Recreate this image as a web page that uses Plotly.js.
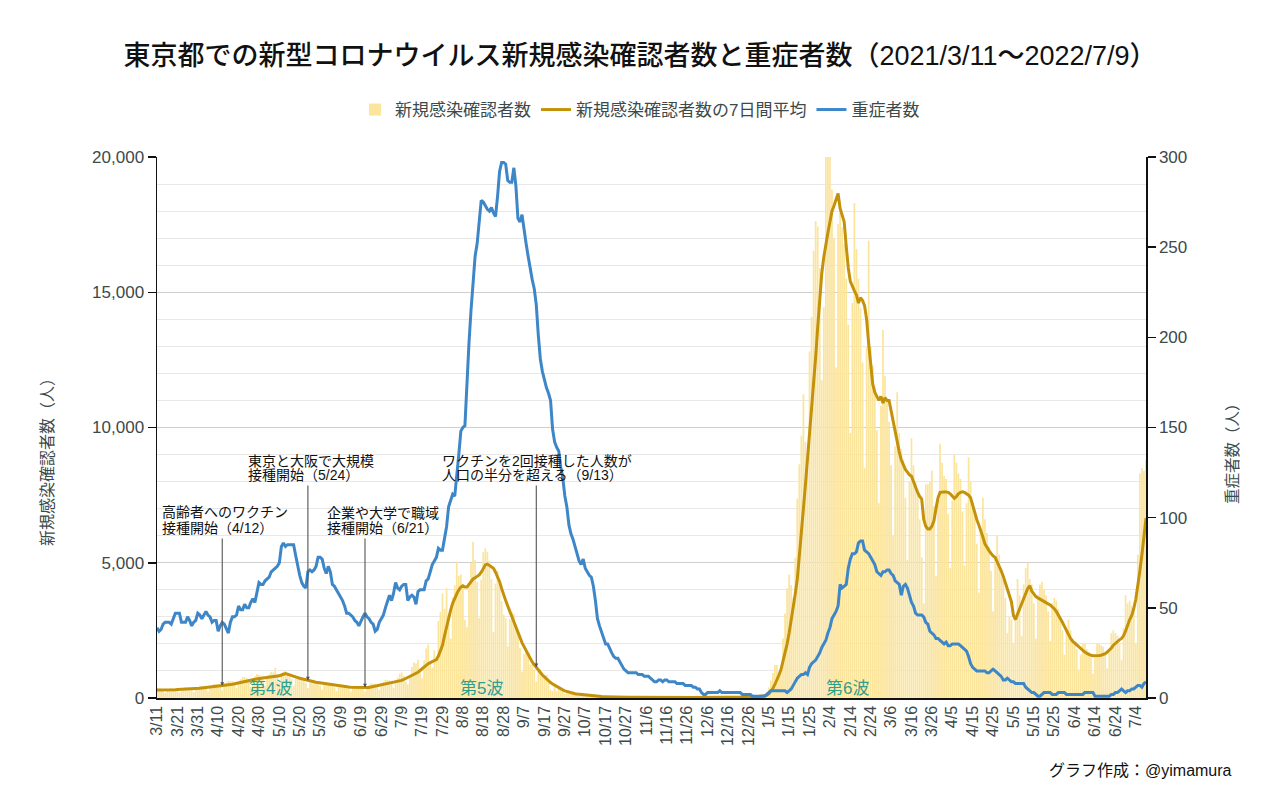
<!DOCTYPE html>
<html>
<head>
<meta charset="utf-8">
<script src="https://cdn.plot.ly/plotly-3.0.1.min.js"></script>
<style>html,body{margin:0;padding:0;background:#fff;}#chart{width:1280px;height:791px;}</style>
</head>
<body>
<div id="chart"></div>
<script>
// ---- DATA (daily, from 2021-03-11 to 2022-07-09) ----
const startDate = '2021-03-11';

// 新規感染確認者数 (daily new cases, left axis)
const newCases = [
355,342,328,268,179,285,333, 372,359,345,284,190,302,352, 394,383,377,315,213,347,411,
458,449,442,367,248,393,462, 516,506,497,419,288,470,561, 634,627,618,521,358,617,695,
780,764,746,623,424,684,801, 883,856,827,677,456,741,869, 966,943,1121,792,573,836,969,
996,926,858,692,456,714,755, 797,736,690,556,366,570,629, 672,628,585,466,305,479,526,
559,523,486,393,256,397,445, 487,460,436,353,235,372,418, 456,437,418,351,243,399,479,
540,535,528,446,300,499,594, 668,660,649,549,378,618,754, 896,950,822,614,502,830,1149,
1308,1271,1410,1008,727,1387,1832, 1979,1359,1128,1763,1429,2848,3177,
3865,3300,4058,3058,2195,3709,4166, 5042,4515,4566,4066,2884,2612,4200,
4989,5773,5094,4295,2962,4377,5386, 5534,5405,5074,4392,2447,4228,4704,
4230,3581,3081,2950,1915,2909,3168, 3099,2539,2362,1853,968,1629,1834,
1675,1242,1273,1067,611,1004,1052, 831,782,862,620,302,253,537,
235,382,288,302,154,248,267, 218,200,194,161,87,144,149, 143,138,82,60,49,69,77,
62,57,66,40,29,36,41, 26,26,32,19,17,29,36, 21,23,19,22,9,18,19, 20,28,18,26,7,18,31,
29,20,30,19,13,26,21, 21,25,16,22,6,12,8, 24,21,27,16,9,11,21, 16,22,23,17,10,17,21,
21,26,20,14,16,19,21, 20,24,22,21,11,23,26, 37,37,38,32,18,46,76, 64,78,79,84,103,151,390,
641,922,1224,1223,871,962,2198, 3124,4051,4561,4172,3719,5185,7377,
8638,9699,11227,9468,8503,12813,14086, 16538,17631,17433,15895,11751,14445,21576,
20679,20068,18800,17000,12214,17526,18200, 17400,16800,15500,13800,9800,14600,18300,
16600,15500,14400,12400,8500,13000,16900, 13000,12300,11500,9900,7200,10800,13600,
11900,11000,10200,8600,6000,9300,11300, 9800,9200,8800,7400,5100,8000,9600,
8600,8000,7700,6600,5200,3500,7900, 7900,8000,8400,7100,4500,7500,9400,
8700,8200,8100,6800,4800,7300,9000, 8700,8300,8100,6900,4900,7200,8900,
8000,7200,6700,5700,3900,6200,7400, 6600,6100,5600,4700,3200,5100,6000,
5300,4700,4400,3700,2400,3000,2900, 2000,2900,4400,3800,2300,4200,4800,
5000,4400,4200,3500,2200,3800,4200, 4300,4000,3800,3200,2100,3500,3700,
3600,3300,3000,2500,1600,2500,2900, 2500,2200,2100,1800,1050,1600,2000,
2000,1800,1700,1500,900,1500,2000, 2000,1950,1900,1600,1100,1750,2400,
2500,2400,2300,2000,1400,2600,3800, 3500,3600,3400,3200,2000,5300,8300,
8500,8400,8800
];

// 新規感染確認者数の7日間平均 (7-day average, left axis)
const avg7 = [
300,298,297,296,297,299,300,302,304,306,
310,312,314,316,318,320,324,328,333,340,
350,358,366,374,382,390,396,402,408,414,
420,430,440,452,465,480,495,510,528,545,
560,578,596,614,632,650,664,678,692,706,
720,728,736,744,752,760,770,780,790,805,
820,850,880,900,880,860,830,805,780,755,
730,708,686,664,640,626,612,598,584,572,
560,546,532,518,504,490,478,466,454,442,
430,424,418,412,406,400,396,392,388,384,
380,380,380,380,390,405,420,435,450,465,
480,495,510,525,540,557,574,590,610,630,
650,685,720,753,786,820,863,906,950,1017,
1083,1150,1210,1270,1310,1350,1385,1420,1550,1750,
1950,2300,2650,3000,3250,3500,3700,3850,4000,4100,
4150,4100,4100,4200,4300,4400,4450,4500,4550,4650,
4800,4920,4950,4900,4870,4800,4650,4500,4300,4050,
3800,3600,3400,3200,3050,2850,2650,2450,2250,2050,
1900,1750,1600,1450,1330,1230,1130,1020,930,850,
780,700,630,570,520,470,420,380,340,300,
265,240,215,195,175,160,145,135,125,115,
105,95,88,80,74,68,62,57,53,50,
46,43,40,38,35,33,31,30,29,28,
27,26,25,24,23,22,21,21,20,20,
20,20,21,21,22,22,22,22,23,23,
23,23,22,22,21,20,19,18,17,17,
17,17,18,18,18,18,17,17,18,18,
18,19,19,19,20,20,19,19,19,19,
20,20,21,21,21,21,22,24,26,28,
30,32,35,40,45,50,56,63,72,95,
150,240,350,500,660,850,1050,1350,1650,2000,
2400,2850,3300,3850,4400,5200,6100,7000,7900,8800,
9700,10600,11600,12600,13700,14800,15700,16300,16800,17200,
17600,18000,18200,18400,18650,18100,17800,17600,16700,15900,
15400,15200,15050,14900,14600,14800,14700,14500,14000,13100,
12200,11600,11300,11150,11000,11150,10900,11100,11000,11000,
10600,10200,9800,9400,9100,8800,8600,8450,8350,8250,
8200,8000,7750,7600,7450,7350,6600,6350,6250,6250,
6350,6550,7000,7400,7600,7620,7620,7620,7600,7550,
7450,7380,7450,7550,7600,7620,7600,7560,7500,7400,
7100,6800,6600,6400,6200,5950,5700,5550,5450,5350,
5250,5200,5050,4850,4700,4500,4250,4000,3750,3560,
3050,2900,3100,3300,3500,3650,3850,4050,4150,3950,
3850,3750,3700,3650,3600,3560,3520,3480,3440,3380,
3300,3200,3080,2950,2800,2650,2480,2330,2200,2100,
2030,1980,1900,1830,1770,1700,1650,1600,1580,1565,
1560,1560,1570,1580,1600,1640,1700,1770,1850,1950,
2030,2100,2150,2200,2300,2480,2700,2900,3050,3300,
3650,4100,4700,5300,5900,6650
];

// 重症者数 (severe cases, right axis)
const severe = [
39,37,38,41,42,42,42,41,44,47,
47,47,42,42,42,45,43,40,42,43,
47,46,44,46,48,46,45,42,43,43,
37,40,42,41,38,36,42,45,45,46,
51,49,49,52,50,50,53,55,53,58,
64,63,63,65,66,67,70,71,72,73,
75,84,86,84,85,85,85,85,79,73,
68,64,62,61,70,71,70,71,73,78,
78,77,72,69,73,70,63,62,60,58,
56,54,51,47,47,46,45,43,42,40,
43,45,47,45,44,42,41,37,38,42,
44,46,50,54,57,54,58,64,61,60,
62,63,63,54,56,57,56,52,59,60,
60,60,65,66,70,74,76,78,83,82,
82,89,95,106,110,113,112,126,135,148,
150,151,177,197,215,233,245,252,265,276,
275,273,271,270,272,269,267,278,292,297,
297,296,287,286,286,294,284,266,264,268,
259,252,245,238,232,227,218,201,188,181,
176,172,169,165,149,142,139,137,128,122,
112,106,96,91,88,84,80,76,74,77,
72,70,68,67,62,54,44,40,37,34,
30,30,27,25,23,22,22,20,18,16,
15,14,14,14,14,14,13,13,13,12,
12,12,11,10,9,9,10,10,9,10,
10,9,9,9,9,8,8,8,8,7,
7,7,7,6,6,5,5,3,2,2,
3,3,3,3,3,3,4,3,3,3,
3,3,3,3,3,3,3,2,2,2,
2,2,1,1,1,1,1,1,1,2,
3,4,4,4,4,4,4,4,4,3,
4,5,7,9,11,12,13,13,14,13,
17,19,20,21,23,25,28,30,32,36,
39,44,46,48,51,63,61,62,63,72,
77,80,80,81,86,87,87,82,81,80,
78,76,74,70,69,68,70,70,71,71,
69,68,65,64,63,57,62,63,61,57,
53,51,47,46,46,46,45,42,41,37,
36,35,33,33,32,31,30,31,29,29,
30,30,30,30,29,28,27,26,23,19,
17,16,15,15,15,15,15,14,14,15,
16,15,14,13,12,10,10,11,10,9,
9,8,8,8,8,8,6,5,4,3,
3,2,1,1,2,3,3,3,3,2,
2,2,3,3,3,3,2,2,2,2,
2,2,2,2,2,3,3,3,3,3,
1,1,1,1,1,1,1,1,2,2,
3,3,4,5,4,3,4,4,5,5,
6,7,7,6,8,9
];

// events (annotation texts) and wave labels
const eventDates = ['2021-04-12', '2021-05-24', '2021-06-21', '2021-09-13'];
const eventLines = [
  ['高齢者へのワクチン', '接種開始（4/12）'],
  ['東京と大阪で大規模', '接種開始（5/24）'],
  ['企業や大学で職域', '接種開始（6/21）'],
  ['ワクチンを2回接種した人数が', '人口の半分を超える（9/13）']
];
const waveLabels = ['第4波', '第5波', '第6波'];
const seriesNames = ['新規感染確認者数', '新規感染確認者数の7日間平均', '重症者数'];
const axisTitles = ['新規感染確認者数（人）', '重症者数（人）'];

// ---- build ----
const DAY = 86400000;
const t0 = Date.UTC(2021, 2, 11);
const dates = newCases.map((_, i) => new Date(t0 + i * DAY).toISOString().slice(0, 10));

const FONT = "'Liberation Sans', 'Noto Sans CJK JP', sans-serif";
const AXC = '#3c4a4a';

// plot area geometry (pixels)
const L = 157, R = 1146, T = 157, B = 698;
const PW = R - L, PH = B - T;
const px = xp => (xp - L) / PW;
const py = yp => (B - yp) / PH;
const yPix = v => B - PH * v / 20000;

const traces = [
  { type: 'bar', x: dates, y: newCases, name: seriesNames[0],
    marker: { color: '#fbe49c', line: { width: 0 } }, hoverinfo: 'skip' },
  { type: 'scatter', mode: 'lines', x: dates, y: avg7, name: seriesNames[1],
    line: { color: '#c4920a', width: 3 }, hoverinfo: 'skip' },
  { type: 'scatter', mode: 'lines', x: dates, y: severe, name: seriesNames[2], yaxis: 'y2',
    line: { color: '#3d86c8', width: 3 }, hoverinfo: 'skip' }
];

// annotation layout (pixel positions of text rows and arrow tails)
const textLeft = [160, 246, 325, 440];
const textRows = [[512, 528], [461, 475], [513, 528], [461, 475]];
const tailY = [537, 484, 537, 484];

const annotations = [];
eventDates.forEach((d, k) => {
  const idx = dates.indexOf(d);
  const v = avg7[idx];
  annotations.push({
    x: d, y: v, xref: 'x', yref: 'y', text: '', showarrow: true,
    ax: 0, ay: tailY[k] - yPix(v), arrowhead: 2, arrowsize: 0.7, arrowwidth: 1.1,
    arrowcolor: '#555'
  });
  eventLines[k].forEach((line, j) => {
    annotations.push({
      xref: 'paper', yref: 'paper', x: px(textLeft[k]), y: py(textRows[k][j]),
      xanchor: 'left', yanchor: 'middle', text: line, showarrow: false,
      font: { size: 14, color: '#111', family: FONT }
    });
  });
});
const waveX = [270, 481, 847];
waveLabels.forEach((w, k) => {
  annotations.push({
    xref: 'paper', yref: 'paper', x: px(waveX[k]), y: py(688), xanchor: 'center', yanchor: 'middle',
    text: w, showarrow: false, font: { size: 17, color: '#2f9e8d', family: FONT }
  });
});
// axis titles
annotations.push({
  xref: 'paper', yref: 'paper', x: px(48), y: py(458), xanchor: 'center', yanchor: 'middle',
  textangle: -90, text: axisTitles[0], showarrow: false, font: { size: 16, color: AXC, family: FONT }
});
annotations.push({
  xref: 'paper', yref: 'paper', x: px(1232), y: py(450), xanchor: 'center', yanchor: 'middle',
  textangle: -90, text: axisTitles[1], showarrow: false, font: { size: 15.5, color: AXC, family: FONT }
});
annotations.push({
  xref: 'paper', yref: 'paper', x: px(1234), y: py(770), xanchor: 'right', yanchor: 'middle',
  text: 'グラフ作成：@yimamura', showarrow: false, font: { size: 16, color: '#111', family: FONT }
});

const layout = {
  width: 1280, height: 791,
  margin: { l: L, r: 1280 - R, t: T, b: 791 - B },
  paper_bgcolor: '#fff', plot_bgcolor: '#fff',
  font: { family: FONT, color: AXC },
  title: { text: '東京都での新型コロナウイルス新規感染確認者数と重症者数（2021/3/11～2022/7/9）',
           x: 0.5, xanchor: 'center', y: 1 - 56 / 791, yanchor: 'middle',
           font: { size: 27, color: '#111', family: FONT, weight: 500 } },
  showlegend: true,
  legend: { orientation: 'h', x: px(640), xanchor: 'center', y: 1 + (T - 110) / PH, yanchor: 'middle',
            font: { size: 17, color: AXC }, traceorder: 'normal' },
  bargap: 0.15,
  xaxis: { type: 'date', range: ['2021-03-11', '2022-07-09'], tick0: '2021-03-11', dtick: 10 * DAY,
           tickformat: '%-m/%-d', tickangle: -90, tickfont: { size: 16, color: AXC },
           showline: true, linecolor: '#111', linewidth: 1.5, ticks: '', showgrid: false, zeroline: false },
  yaxis: { range: [0, 20000], dtick: 5000, tickformat: ',d', showgrid: true, gridcolor: '#cfcfcf', gridwidth: 1,
           minor: { dtick: 1000, showgrid: true, gridcolor: '#e8e8e8', gridwidth: 1 },
           showline: true, linecolor: '#111', linewidth: 1.5, ticks: 'outside', ticklen: 8, tickwidth: 1.5,
           tickcolor: '#111', tickfont: { size: 17, color: AXC }, zeroline: false },
  yaxis2: { overlaying: 'y', side: 'right', range: [0, 300], dtick: 50, showgrid: false, zeroline: false,
            showline: true, linecolor: '#111', linewidth: 1.5, ticks: 'outside', ticklen: 8, tickwidth: 1.5,
            tickcolor: '#111', tickfont: { size: 17, color: AXC } },
  yaxis3: { overlaying: 'y', side: 'left', range: [0, 20000], dtick: 5000, showgrid: false, zeroline: false,
            showline: false, ticks: 'inside', ticklen: 8, tickwidth: 1.5, tickcolor: '#111', showticklabels: false },
  yaxis4: { overlaying: 'y', side: 'right', range: [0, 300], dtick: 50, showgrid: false, zeroline: false,
            showline: false, ticks: 'inside', ticklen: 8, tickwidth: 1.5, tickcolor: '#111', showticklabels: false },
  annotations: annotations
};

Plotly.newPlot('chart', traces, layout, { displayModeBar: false, staticPlot: true });
</script>
</body>
</html>
